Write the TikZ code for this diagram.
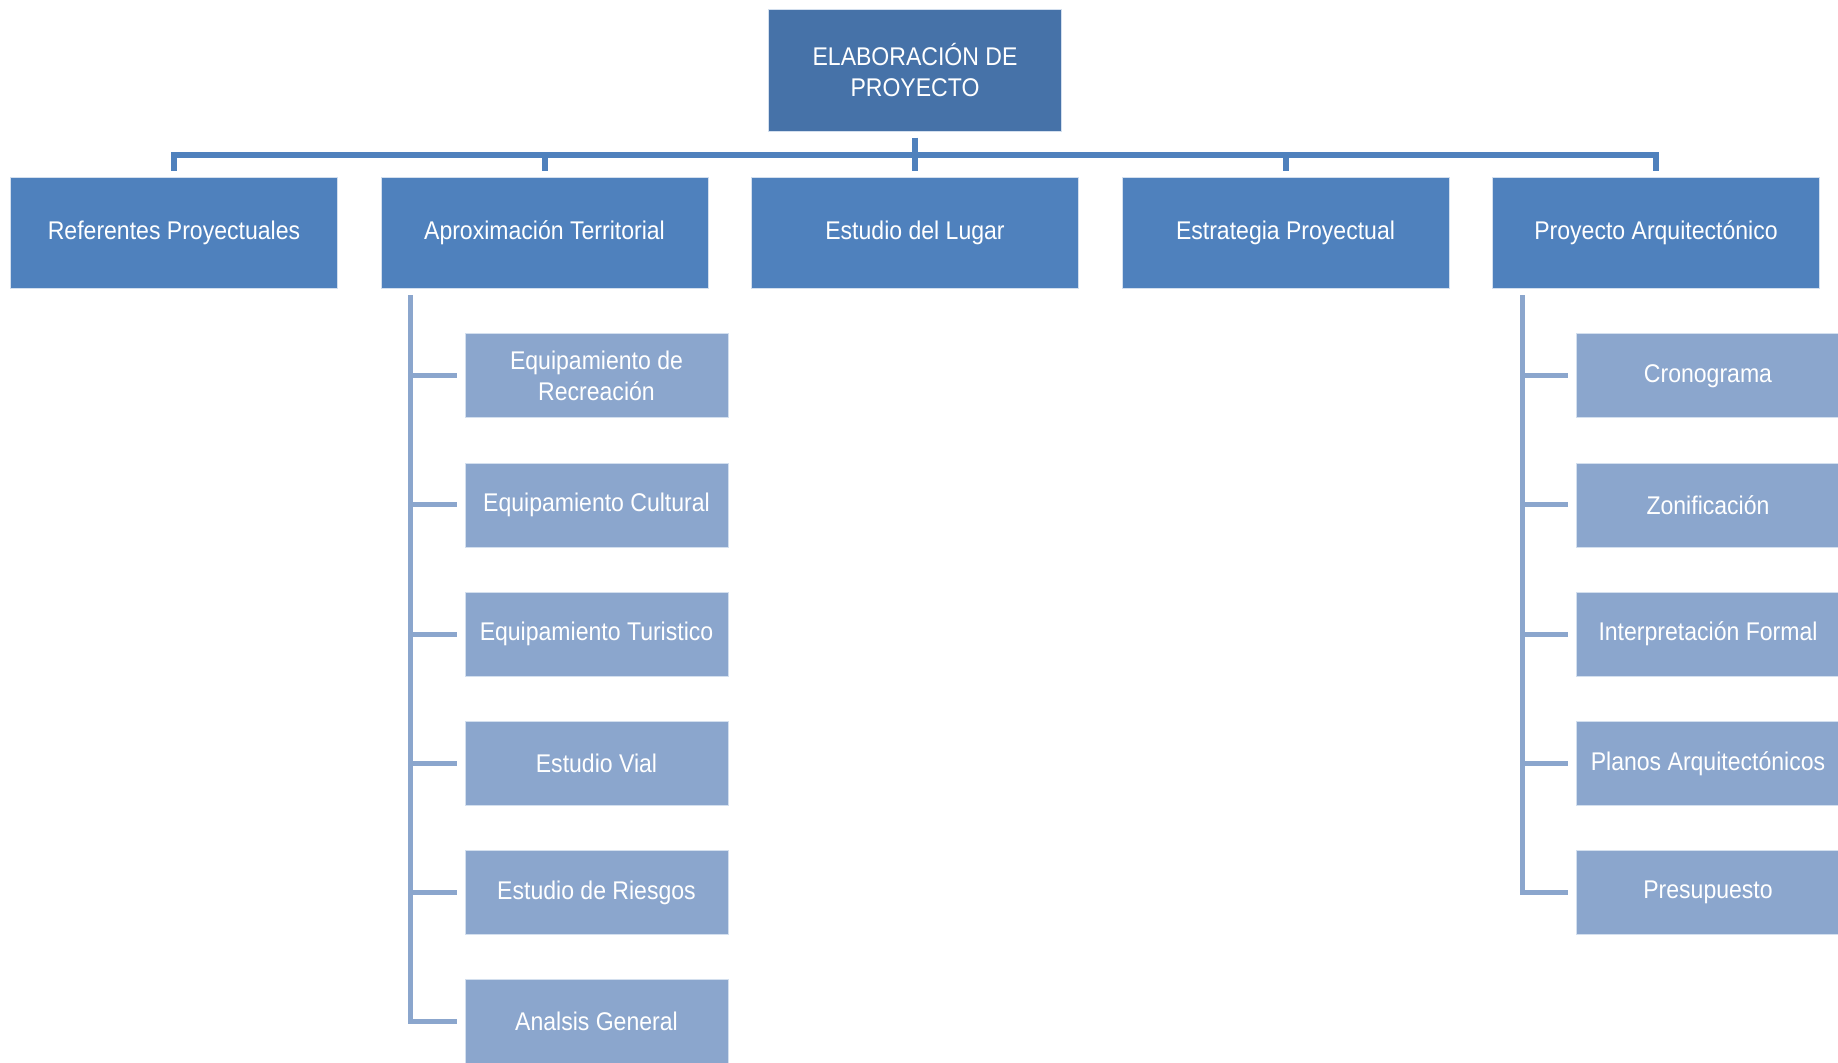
\documentclass[tikz,border=0pt]{standalone}
\usepackage{fontspec}
\setmainfont{Liberation Sans}[FakeStretch=0.9]
\usetikzlibrary{positioning}
\definecolor{rootblue}{RGB}{70,114,168}
\definecolor{mainblue}{RGB}{79,129,189}
\definecolor{subblue}{RGB}{139,166,205}
\tikzset{
  box/.style={draw=white!75!mainblue, line width=0.4pt, text=white, align=center,
    inner sep=0pt, font=\fontsize{12.8}{15.4}\selectfont},
  topbox/.style={box, fill=rootblue, minimum width=146.5pt, minimum height=61pt},
  mainbox/.style={box, fill=mainblue, minimum width=163.5pt, minimum height=55.5pt},
  subbox/.style={box, fill=subblue, minimum width=131.5pt, minimum height=42pt},
  busline/.style={draw=mainblue, line width=3pt},
  subline/.style={draw=subblue, line width=2.5pt},
}
\begin{document}
\begin{tikzpicture}[x=0.5pt,y=-0.5pt]
  \clip (0,0) rectangle (1838,1063);
  % first level
  \node[mainbox] (ref) at (174,232.5) {Referentes Proyectuales};
  \node[mainbox, right=21.35pt of ref] (apr) {Aproximación Territorial};
  \node[mainbox, right=21.35pt of apr] (est) {Estudio del Lugar};
  \node[mainbox, right=21.35pt of est] (estr) {Estrategia Proyectual};
  \node[mainbox, right=21.35pt of estr] (pro) {Proyecto Arquitectónico};
  % root
  \node[topbox, above=22.5pt of est] (root) {ELABORACIÓN DE\\PROYECTO};
  % bus
  \draw[busline] ([yshift=-3pt]root.south) -- ([yshift=3pt]est.north);
  \draw[busline] ([yshift=3pt]ref.north) |- ([yshift=11pt]est.north) -| ([yshift=3pt]pro.north);
  \foreach \n in {apr,estr}
    \draw[busline] ([yshift=3pt]\n.north) -- ([yshift=11pt]\n.north);
  % second level, left branch
  \foreach \txt [count=\i] in {{Equipamiento de\\Recreación}, Equipamiento Cultural,
      Equipamiento Turistico, Estudio Vial, Estudio de Riesgos, Analsis General}
    \node[subbox, anchor=north west] (a\i)
      at ([xshift=42pt,yshift={-22.5pt-64.6pt*(\i-1)}]apr.south west) {\txt};
  \coordinate (atrunk) at ([xshift=15pt,yshift=-3.5pt]apr.south west);
  \draw[subline] (atrunk) |- ([xshift=-4pt]a6.west);
  \foreach \i in {1,...,5}
    \draw[subline] (atrunk |- a\i.west) -- ([xshift=-4pt]a\i.west);
  % second level, right branch
  \foreach \txt [count=\i] in {Cronograma, Zonificación, Interpretación Formal,
      Planos Arquitectónicos, Presupuesto}
    \node[subbox, anchor=north west] (p\i)
      at ([xshift=42pt,yshift={-22.5pt-64.6pt*(\i-1)}]pro.south west) {\txt};
  \coordinate (ptrunk) at ([xshift=15pt,yshift=-3.5pt]pro.south west);
  \draw[subline] (ptrunk) |- ([xshift=-4pt]p5.west);
  \foreach \i in {1,...,4}
    \draw[subline] (ptrunk |- p\i.west) -- ([xshift=-4pt]p\i.west);
\end{tikzpicture}
\end{document}
